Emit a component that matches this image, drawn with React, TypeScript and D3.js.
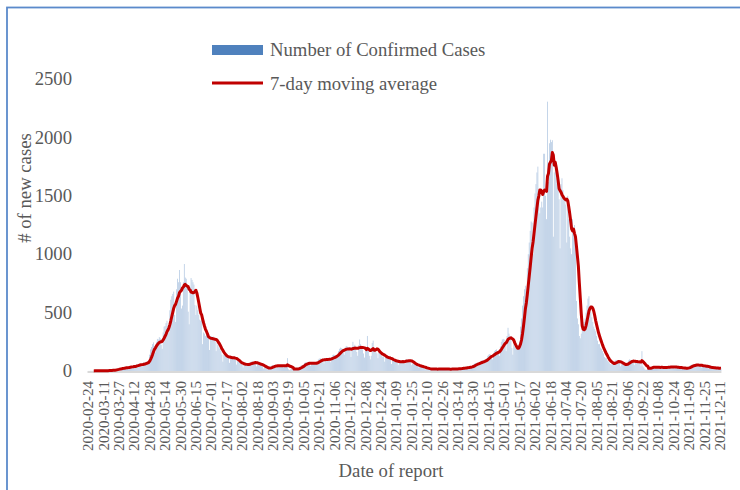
import React from "react";
import * as d3 from "d3";

// Daily confirmed cases, one row per week (Monday..Sunday), starting 2020-02-24
const wave1Weeks = [
  [0, 1, 0, 2, 1, 1, 2],
  [1, 2, 3, 2, 2, 3, 1],
  [2, 3, 4, 3, 3, 4, 2],
  [3, 5, 6, 7, 8, 7, 6],
  [9, 14, 17, 20, 22, 23, 21],
  [16, 27, 30, 32, 31, 33, 27],
  [22, 38, 42, 43, 42, 41, 38],
  [30, 52, 60, 58, 61, 59, 51],
  [40, 64, 74, 72, 78, 80, 68],
  [75, 140, 185, 205, 230, 245, 215],
  [160, 250, 275, 270, 290, 280, 225],
  [190, 330, 380, 385, 410, 430, 325],
  [330, 520, 610, 640, 660, 680, 480],
  [420, 700, 790, 760, 865, 760, 535],
  [560, 760, 916, 800, 790, 720, 508],
  [400, 720, 796, 780, 760, 740, 564],
  [480, 560, 520, 480, 440, 430, 450],
  [230, 330, 320, 300, 310, 290, 285],
  [180, 290, 300, 290, 295, 280, 269],
  [170, 240, 220, 200, 190, 170, 140],
  [80, 140, 135, 130, 125, 125, 119],
  [70, 115, 125, 120, 118, 125, 97],
  [55, 85, 80, 75, 70, 65, 60],
];

const summer2020Weeks = [
  [30, 55, 62, 60, 65, 58, 55],
  [45, 78, 82, 80, 78, 75, 66],
  [40, 68, 62, 58, 55, 50, 52],
  [20, 30, 28, 25, 24, 22, 26],
  [18, 40, 48, 50, 46, 45, 47],
  [25, 50, 52, 48, 50, 45, 45],
  [30, 45, 48, 45, 110, 15, 8],
  [14, 22, 20, 18, 16, 18, 18],
  [8, 20, 30, 40, 45, 50, 52],
  [40, 70, 75, 72, 70, 68, 67],
  [45, 72, 70, 75, 68, 70, 62],
];

const wave2Weeks = [
  [60, 98, 105, 110, 100, 100, 92],
  [65, 105, 110, 112, 108, 105, 95],
  [75, 120, 135, 140, 138, 130, 123],
  [120, 170, 190, 200, 195, 190, 160],
  [140, 200, 215, 210, 205, 190, 170],
  [120, 205, 250, 215, 225, 180, 163],
  [130, 220, 270, 230, 215, 185, 150],
  [115, 190, 200, 300, 190, 130, 100],
  [130, 240, 260, 200, 190, 160, 150],
  [110, 170, 175, 150, 130, 120, 125],
  [80, 125, 130, 120, 110, 105, 100],
  [60, 100, 95, 90, 85, 80, 85],
  [50, 80, 90, 85, 85, 90, 80],
  [60, 95, 100, 95, 92, 90, 84],
  [50, 65, 60, 55, 50, 50, 55],
  [30, 42, 40, 35, 32, 34, 32],
  [15, 22, 20, 18, 16, 17, 18],
];

const spring2021Weeks = [
  [10, 18, 20, 17, 16, 15, 16],
  [12, 19, 20, 18, 17, 18, 15],
  [10, 18, 19, 17, 16, 17, 15],
  [12, 20, 21, 19, 18, 17, 19],
  [14, 22, 26, 27, 28, 25, 26],
  [20, 32, 36, 35, 38, 35, 35],
  [35, 55, 62, 68, 70, 65, 65],
  [50, 80, 88, 90, 92, 88, 86],
  [80, 110, 130, 140, 145, 140, 130],
  [100, 155, 170, 180, 185, 170, 160],
  [130, 210, 250, 270, 275, 270, 240],
  [170, 300, 370, 320, 300, 290, 196],
  [140, 230, 210, 200, 190, 200, 188],
];

const wave3Weeks = [
  [250, 380, 450, 560, 640, 700, 730],
  [620, 880, 1000, 1100, 1200, 1280, 1270],
  [1000, 1400, 1520, 1600, 1700, 1750, 1530],
  [1350, 1400, 1450, 1400, 1860, 1860, 1500],
  [1300, 2306, 1618, 1950, 1980, 1960, 1976],
  [1150, 1700, 1800, 1650, 1600, 1550, 1470],
  [1050, 1600, 1650, 1550, 1500, 1480, 1425],
  [1100, 1500, 1300, 1150, 1050, 1000, 1300],
  [1200, 1250, 1100, 600, 450, 400, 300],
  [280, 320, 350, 400, 420, 450, 500],
  [560, 620, 640, 560, 500, 460, 420],
  [380, 360, 340, 300, 260, 230, 230],
  [200, 190, 170, 150, 120, 110, 110],
  [90, 80, 70, 60, 55, 60, 75],
];

const late2021Weeks = [
  [50, 85, 95, 90, 90, 85, 65],
  [40, 60, 62, 58, 55, 52, 58],
  [55, 90, 100, 95, 92, 88, 75],
  [50, 85, 90, 85, 80, 82, 74],
  [40, 170, 40, 30, 15, 10, 10],
  [20, 35, 38, 34, 32, 30, 35],
  [18, 34, 36, 35, 33, 30, 31],
  [20, 33, 35, 34, 32, 30, 33],
  [22, 38, 40, 38, 36, 36, 35],
  [20, 34, 35, 32, 30, 28, 31],
  [15, 25, 27, 25, 24, 22, 23],
  [25, 40, 48, 52, 55, 50, 45],
  [35, 60, 58, 55, 50, 48, 44],
  [30, 45, 48, 42, 40, 38, 37],
  [20, 32, 30, 28, 29, 27, 30],
  [15, 26, 25, 24, 22, 25, 24],
];

const startDate = "2020-02-24";

const tickLabels = [
  "2020-02-24", "2020-03-11", "2020-03-27", "2020-04-12", "2020-04-28", "2020-05-14",
  "2020-05-30", "2020-06-15", "2020-07-01", "2020-07-17", "2020-08-02", "2020-08-18",
  "2020-09-03", "2020-09-19", "2020-10-05", "2020-10-21", "2020-11-06", "2020-11-22",
  "2020-12-08", "2020-12-24", "2021-01-09", "2021-01-25", "2021-02-10", "2021-02-26",
  "2021-03-14", "2021-03-30", "2021-04-15", "2021-05-01", "2021-05-17", "2021-06-02",
  "2021-06-18", "2021-07-04", "2021-07-20", "2021-08-05", "2021-08-21", "2021-09-06",
  "2021-09-22", "2021-10-08", "2021-10-24", "2021-11-09", "2021-11-25", "2021-12-11",
];

const yTicks = [0, 500, 1000, 1500, 2000, 2500];

const dailyCases: number[] = [
  ...wave1Weeks,
  ...summer2020Weeks,
  ...wave2Weeks,
  ...spring2021Weeks,
  ...wave3Weeks,
  ...late2021Weeks,
].flat();

const FONT = "'Liberation Serif', 'Times New Roman', serif";
const TEXT = "#595959";

export default function App() {
  const W = 740;
  const H = 490;
  const parse = d3.timeParse("%Y-%m-%d");
  const fmt = d3.timeFormat("%Y-%m-%d");
  const start = parse(startDate) as Date;
  const dates = dailyCases.map((_, i) => fmt(d3.timeDay.offset(start, i)));

  const left = 87.5;
  const step = 0.9634;
  const x = d3
    .scaleBand<string>()
    .domain(dates)
    .range([left, left + dates.length * step])
    .paddingInner(0.15)
    .paddingOuter(0.075);
  const bw = x.bandwidth();
  const cx = (d: string) => (x(d) as number) + bw / 2;

  const y = d3.scaleLinear().domain([0, 2500]).range([371, 79]);

  const ma: (number | null)[] = dailyCases.map((_, i) =>
    i < 6 ? null : (d3.mean(dailyCases.slice(i - 6, i + 1)) as number)
  );

  const line = d3
    .line<number | null>()
    .defined((d) => d != null)
    .x((_, i) => cx(dates[i]))
    .y((d) => y(d as number));

  return (
    <svg
      width={W}
      height={H}
      style={{ position: "absolute", left: 0, top: 0, display: "block", background: "#fff" }}
      fontFamily={FONT}
    >
      <rect x={0} y={0} width={W} height={H} fill="#fff" />
      {/* frame */}
      <rect x={7} y={7.5} width={900} height={900} fill="none" stroke="#5b8acb" strokeWidth={1.8} />

      {/* legend */}
      <rect x={212} y={45} width={51} height={10} fill="#4f81bd" />
      <text x={270} y={56} fontSize={18.7} fill={TEXT}>
        Number of Confirmed Cases
      </text>
      <line x1={212} x2={263} y1={83} y2={83} stroke="#c00000" strokeWidth={3} />
      <text x={270} y={90} fontSize={18.7} fill={TEXT}>
        7-day moving average
      </text>

      {/* y ticks */}
      {yTicks.map((t) => (
        <text key={t} x={72} y={y(t)} dy="0.33em" textAnchor="end" fontSize={18.7} fill={TEXT}>
          {t}
        </text>
      ))}

      {/* bars */}
      <g fill="#b8cce4">
        {dailyCases.map((v, i) => (
          <rect key={i} x={x(dates[i])} y={y(v)} width={bw} height={y(0) - y(v)} />
        ))}
      </g>

      {/* axis line */}
      <line
        x1={left}
        x2={left + dates.length * step}
        y1={y(0) + 1}
        y2={y(0) + 1}
        stroke="#d9d9d9"
        strokeWidth={2.2}
      />

      {/* moving average */}
      <path d={line(ma) || ""} fill="none" stroke="#c00000" strokeWidth={3} strokeLinejoin="round" />

      {/* x tick labels */}
      {tickLabels.map((l) => (
        <text
          key={l}
          transform={`translate(${cx(l)},381) rotate(-90)`}
          textAnchor="end"
          dy="0.34em"
          fontSize={15}
          fill={TEXT}
        >
          {l}
        </text>
      ))}

      {/* axis titles */}
      <text
        transform="translate(24,188) rotate(-90)"
        textAnchor="middle"
        dy="0.35em"
        fontSize={18.7}
        fill={TEXT}
      >
        # of new cases
      </text>
      <text x={391} y={477} textAnchor="middle" fontSize={18.7} fill={TEXT}>
        Date of report
      </text>
    </svg>
  );
}
